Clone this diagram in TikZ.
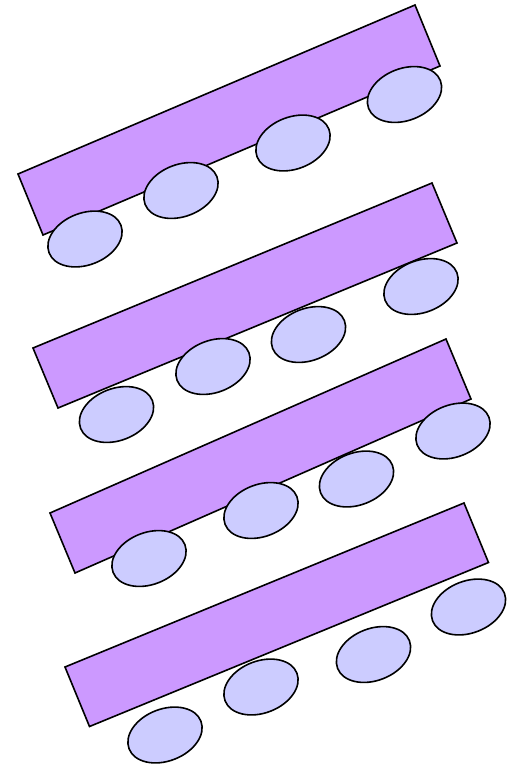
\documentclass[tikz,border=0pt]{standalone}
\usetikzlibrary{shapes.geometric}
\definecolor{barfill}{HTML}{CC99FF}
\definecolor{wheelfill}{HTML}{CCCCFF}
\tikzset{
  bar/.style={draw=black, fill=barfill, line width=1.6pt, line join=miter},
  wheel/.style={ellipse, draw=black, fill=wheelfill, line width=1.6pt,
    minimum width=77pt, minimum height=52pt, inner sep=0pt, rotate=21}
}
\begin{document}
\begin{tikzpicture}[x=1pt,y=-1pt]
\useasboundingbox (0,0) rectangle (518,764);
% row 1
\draw[bar] (18,174) -- ++(397,-169) -- ++(25,61) -- ++(-397,169) -- cycle;
\node[wheel] (w11) at (85,239) {};
\node[wheel] (w12) at (181,190.5) {};
\node[wheel] (w13) at (293,143) {};
\node[wheel] (w14) at (404.5,94.5) {};
% row 2
\draw[bar] (33,348) -- ++(399,-165) -- ++(25,60) -- ++(-399,165) -- cycle;
\node[wheel] (w21) at (116.5,414.5) {};
\node[wheel] (w22) at (213,366.5) {};
\node[wheel] (w23) at (308.5,334.5) {};
\node[wheel] (w24) at (421,286.5) {};
% row 3
\draw[bar] (50,513) -- ++(396,-174) -- ++(25,60) -- ++(-396,174) -- cycle;
\node[wheel] (w31) at (149,558.5) {};
\node[wheel] (w32) at (261,510.5) {};
\node[wheel] (w33) at (356.5,479) {};
\node[wheel] (w34) at (453,431) {};
% row 4
\draw[bar] (65,667) -- ++(399,-164) -- ++(24.5,59.5) -- ++(-399,164) -- cycle;
\node[wheel] (w41) at (165,735) {};
\node[wheel] (w42) at (261,687) {};
\node[wheel] (w43) at (373.5,654.5) {};
\node[wheel] (w44) at (468.5,607) {};
\end{tikzpicture}
\end{document}
